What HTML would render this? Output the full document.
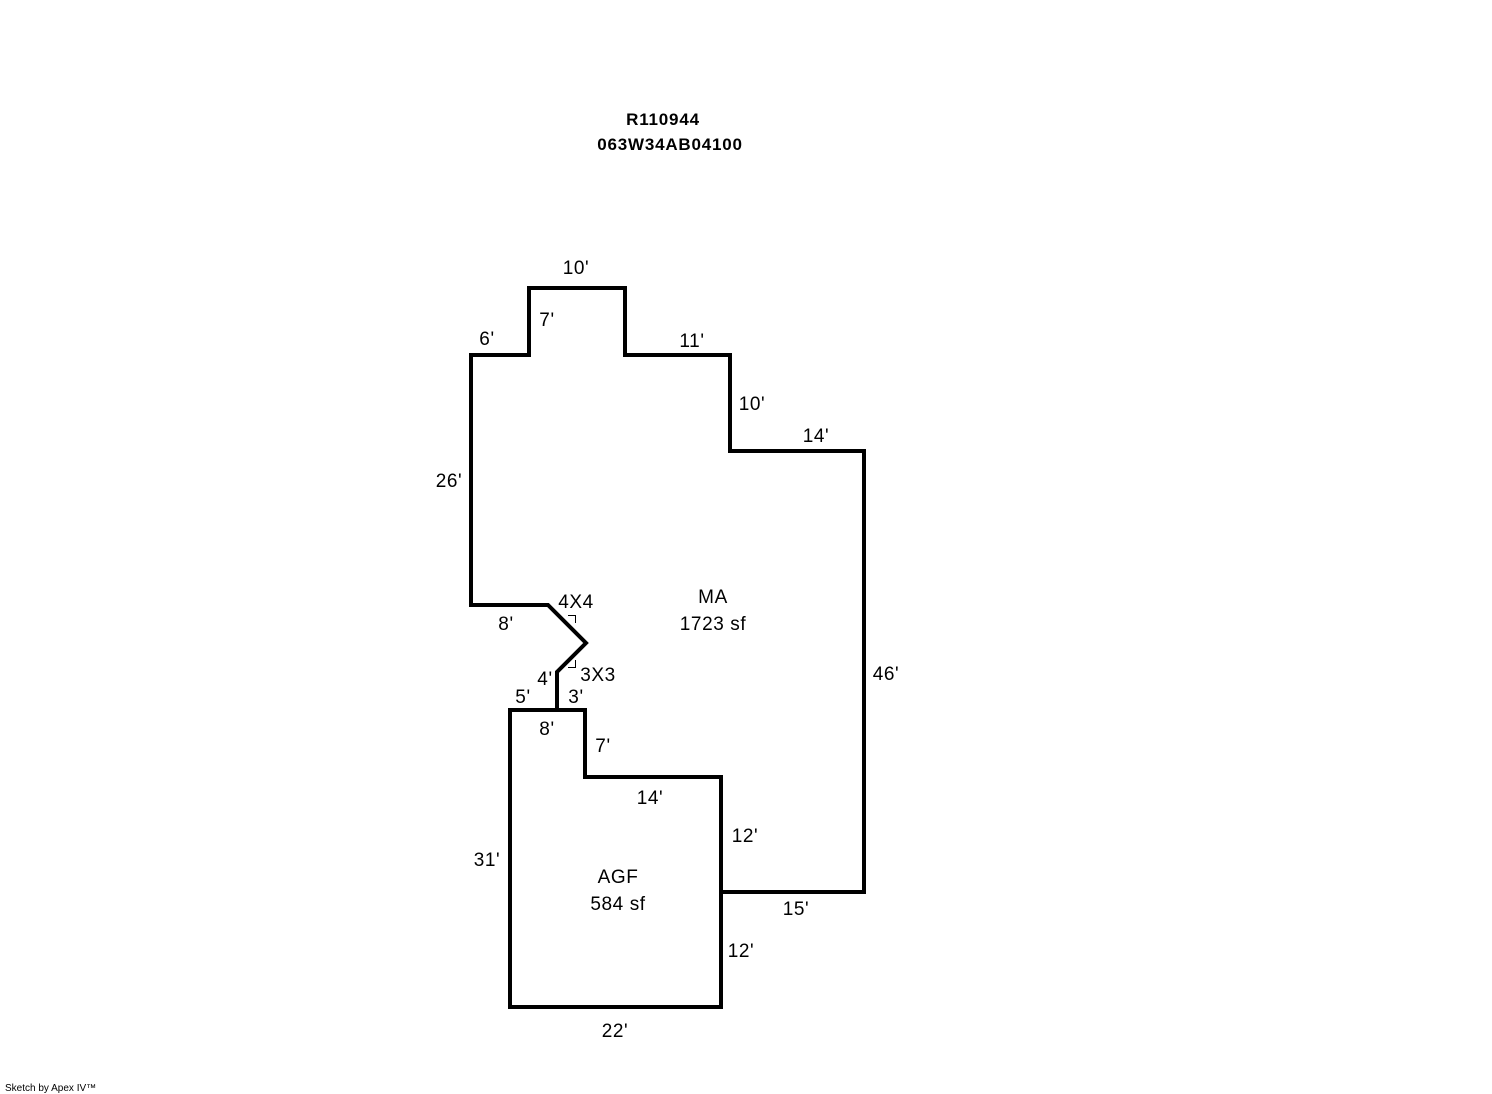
<!DOCTYPE html>
<html><head><meta charset="utf-8"><style>
html,body{margin:0;padding:0;background:#fff;}
svg{display:block;}
text{font-family:"Liberation Sans",Arial,sans-serif;font-size:19px;letter-spacing:0.6px;fill:#000;}
</style></head><body>
<svg width="1492" height="1094" viewBox="0 0 1492 1094" xmlns="http://www.w3.org/2000/svg">
<g fill="none" stroke="#000" stroke-width="4" stroke-linejoin="miter" stroke-linecap="square">
<polyline points="557,710 557,672 586,643 548,605 471,605 471,355 529,355 529,288 625,288 625,355 730,355 730,451 864,451 864,892 721,892"/>
<polygon points="510,710 585,710 585,777 721,777 721,1007 510,1007"/>
</g>
<g fill="none" stroke="#000" stroke-width="1">
<polyline points="568,615.5 575.5,615.5 575.5,623"/>
<polyline points="568,667.5 575.5,667.5 575.5,660"/>
</g>
<text x="663" y="125" text-anchor="middle" style="font-weight:bold;font-size:17px;letter-spacing:0.8px">R110944</text>
<text x="670" y="150" text-anchor="middle" style="font-weight:bold;font-size:17px;letter-spacing:0.8px">063W34AB04100</text>
<text x="576" y="274" text-anchor="middle">10'</text>
<text x="547" y="326" text-anchor="middle">7'</text>
<text x="487" y="345" text-anchor="middle">6'</text>
<text x="692" y="347" text-anchor="middle">11'</text>
<text x="752" y="410" text-anchor="middle">10'</text>
<text x="816" y="442" text-anchor="middle">14'</text>
<text x="449" y="487" text-anchor="middle">26'</text>
<text x="713" y="603" text-anchor="middle">MA</text>
<text x="713" y="630" text-anchor="middle">1723 sf</text>
<text x="576" y="608" text-anchor="middle">4X4</text>
<text x="506" y="630" text-anchor="middle">8'</text>
<text x="598" y="681" text-anchor="middle">3X3</text>
<text x="545" y="685" text-anchor="middle">4'</text>
<text x="523" y="703" text-anchor="middle">5'</text>
<text x="576" y="703" text-anchor="middle">3'</text>
<text x="886" y="680" text-anchor="middle">46'</text>
<text x="547" y="735" text-anchor="middle">8'</text>
<text x="603" y="752" text-anchor="middle">7'</text>
<text x="650" y="804" text-anchor="middle">14'</text>
<text x="745" y="842" text-anchor="middle">12'</text>
<text x="487" y="866" text-anchor="middle">31'</text>
<text x="618" y="883" text-anchor="middle">AGF</text>
<text x="618" y="910" text-anchor="middle">584 sf</text>
<text x="796" y="915" text-anchor="middle">15'</text>
<text x="741" y="957" text-anchor="middle">12'</text>
<text x="615" y="1037" text-anchor="middle">22'</text>
<text x="5" y="1091" style="font-size:10px;letter-spacing:0">Sketch by Apex IV™</text>
</svg>
</body></html>
